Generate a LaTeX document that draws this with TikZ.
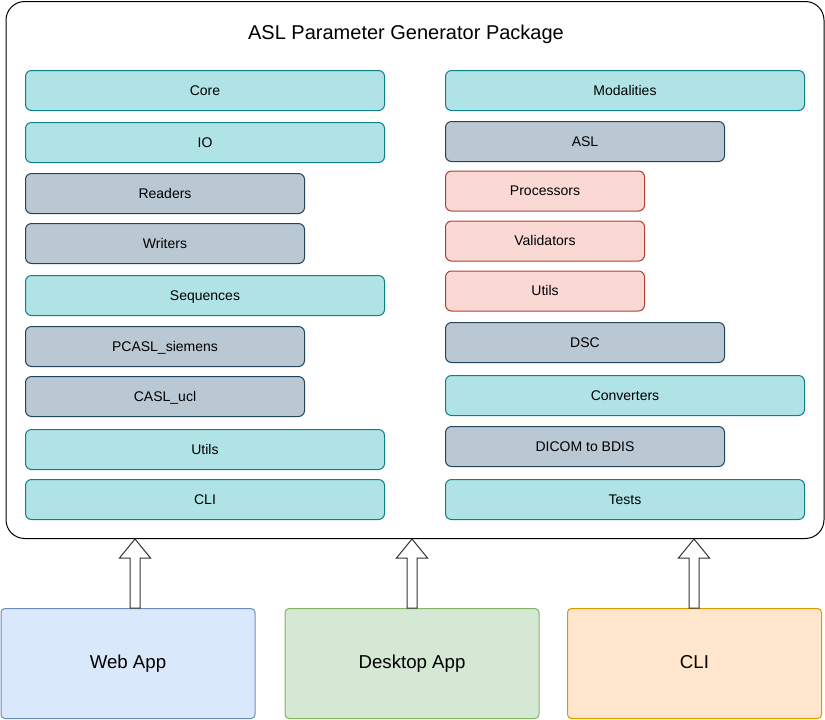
\documentclass[tikz,border=0pt]{standalone}
\usepackage{fontspec}
\setmainfont{Liberation Sans}
\usetikzlibrary{calc}
\definecolor{tealF}{HTML}{B0E3E6}\definecolor{tealS}{HTML}{0E8088}
\definecolor{grayF}{HTML}{BAC8D3}\definecolor{grayS}{HTML}{23445D}
\definecolor{pinkF}{HTML}{FAD9D5}\definecolor{pinkS}{HTML}{AE4132}
\definecolor{blueF}{HTML}{DAE8FC}\definecolor{blueS}{HTML}{6C8EBF}
\definecolor{greenF}{HTML}{D5E8D4}\definecolor{greenS}{HTML}{82B366}
\definecolor{orangeF}{HTML}{FFE6CC}\definecolor{orangeS}{HTML}{D79B00}
\tikzset{
  mod/.style={draw, rounded corners=4.5pt, line width=0.75pt, anchor=north west,
    minimum height=30pt, inner sep=0pt, text height=0.85em, text depth=0.15em,
    font=\fontsize{10.5}{12}\selectfont},
  wide/.style={minimum width=269.25pt},
  mid/.style={minimum width=209.25pt},
  short/.style={minimum width=149.25pt},
  tealbox/.style={mod, fill=tealF, draw=tealS},
  graybox/.style={mod, fill=grayF, draw=grayS},
  pinkbox/.style={mod, fill=pinkF, draw=pinkS},
  app/.style={draw, rounded corners=3pt, line width=0.75pt, anchor=north west,
    minimum width=190.5pt, minimum height=82.5pt, inner sep=0pt,
    text height=0.85em, text depth=0.15em, font=\fontsize{14}{16}\selectfont},
  barrow/.style={draw=black!80, fill=white, line width=0.75pt, line join=miter}
}
\newcommand\blockarr[3]{% x (px), bottom node, top node
  \draw[barrow] let \p1=(#2.north), \p2=(#3.south) in
    ({(#1-5)*0.75pt},\y1) -- ({(#1-5)*0.75pt},{\y2-14.25pt}) -- ({(#1-15.5)*0.75pt},{\y2-14.25pt})
    -- ({#1*0.75pt},\y2) -- ({(#1+15.5)*0.75pt},{\y2-14.25pt}) -- ({(#1+5)*0.75pt},{\y2-14.25pt})
    -- ({(#1+5)*0.75pt},\y1) -- cycle;}
\begin{document}
\begin{tikzpicture}[x=0.75pt,y=-0.75pt]
\useasboundingbox (0,0) rectangle (825,719);
% outer package box
\node[draw, line width=0.75pt, rounded corners=14pt, anchor=north west,
  minimum width=613.5pt, minimum height=402.75pt, inner sep=0pt] (pkg) at (5.5,1) {};
\node[font=\fontsize{15}{18}\selectfont, text height=0.85em, text depth=0.15em] (title) at (406,35) {ASL Parameter Generator Package};
% left column
\node[tealbox, wide] (core) at (25,70) {Core};
\node[tealbox, wide] (io) at (25,122) {IO};
\node[graybox, mid] (readers) at (25,173) {Readers};
\node[graybox, mid] (writers) at (25,223) {Writers};
\node[tealbox, wide] (seq) at (25,275) {Sequences};
\node[graybox, mid] (pcasl) at (25,326) {PCASL\_siemens};
\node[graybox, mid] (casl) at (25,376) {CASL\_ucl};
\node[tealbox, wide] (lutils) at (25,429) {Utils};
\node[tealbox, wide] (lcli) at (25,479) {CLI};
% right column
\node[tealbox, wide] (modal) at (445,70) {Modalities};
\node[graybox, mid] (asl) at (445,121) {ASL};
\node[pinkbox, short] (proc) at (445,170.5) {Processors};
\node[pinkbox, short] (valid) at (445,220.5) {Validators};
\node[pinkbox, short] (rutils) at (445,270.5) {Utils};
\node[graybox, mid] (dsc) at (445,322) {DSC};
\node[tealbox, wide] (conv) at (445,375) {Converters};
\node[graybox, mid] (dicom) at (445,426) {DICOM to BDIS};
\node[tealbox, wide] (tests) at (445,479) {Tests};
% apps
\node[app, fill=blueF, draw=blueS] (web) at (0.5,608) {Web App};
\node[app, fill=greenF, draw=greenS] (desk) at (284.5,608) {Desktop App};
\node[app, fill=orangeF, draw=orangeS] (cli) at (567,608) {CLI};
% block arrows
\blockarr{135}{web}{pkg}
\blockarr{412}{desk}{pkg}
\blockarr{694}{cli}{pkg}
\end{tikzpicture}
\end{document}
